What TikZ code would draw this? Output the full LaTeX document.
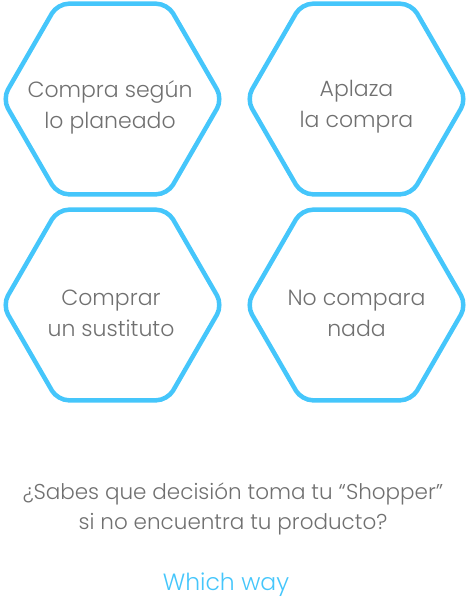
\documentclass[tikz,border=0pt]{standalone}
\usepackage{fontspec}
\setmainfont{Poppins}[UprightFont={* Light}]
\usetikzlibrary{positioning}

\definecolor{hexblue}{HTML}{45C6FB}
\definecolor{textgray}{HTML}{707070}

\tikzset{
    hexline/.style={hexblue, line width=4.5pt, rounded corners=11pt},
    hextext/.style={textgray, align=center, inner sep=0pt, font=\fontsize{22}{31}\selectfont},
    asktext/.style={textgray, align=center, inner sep=0pt, font=\fontsize{21.5}{30}\selectfont}
}

\begin{document}
\begin{tikzpicture}[x=1pt, y=-1pt]
    \useasboundingbox (0,0) rectangle (470,603);
    % The four hexagons.
    \foreach \cx/\cy in {112.5/99, 356.5/99, 112.5/305, 356.5/305}
        \draw[hexline] (\cx,\cy) +(0:110) -- +(60:110) -- +(120:110)
            -- +(180:110) -- +(240:110) -- +(300:110) -- cycle;
    % Below nodes are the labels.
        \node[hextext] (plan) at (110,107) {Compra según\\lo planeado};
        \node[hextext] (delay) at (356.5,107) {Aplaza\\la compra};
        \node[hextext] (swap) at (111,313) {Comprar\\un sustituto};
        \node[hextext] (none) at (356.5,313) {No compara\\nada};
    % The question and the brand.
        \node[asktext] (ask) at (233,509) {¿Sabes que decisión toma tu “Shopper”\\si no encuentra tu producto?};
        \node[hextext, hexblue, font=\fontsize{23.5}{30}\selectfont] (brand) at (226,585) {Which way};
\end{tikzpicture}
\end{document}
